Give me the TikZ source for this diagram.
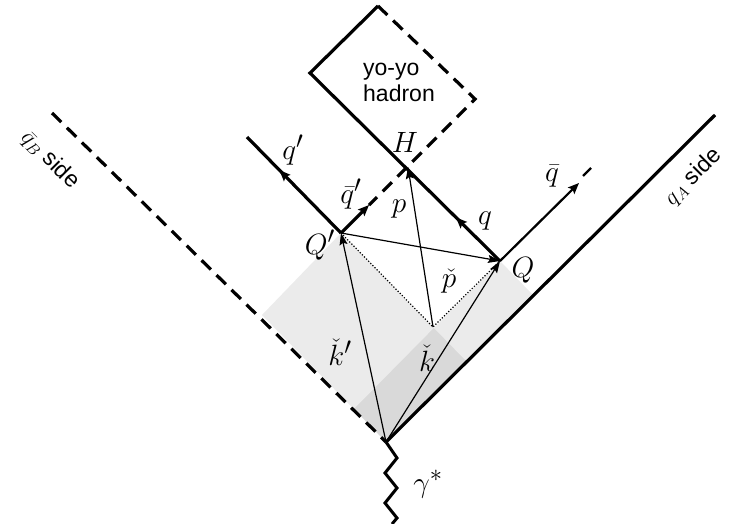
\documentclass[tikz,border=0pt]{standalone}
\usepackage{fontspec}
\setsansfont{Liberation Sans}
\usetikzlibrary{arrows.meta,decorations.markings}
\begin{document}
\begin{tikzpicture}[x=1pt,y=-1pt,
  lc/.style={line width=3.2pt},
  lcd/.style={line width=3.2pt, dash pattern=on 13pt off 8pt},
  thinarr/.style={line width=1.2pt, -{Stealth[length=12pt,width=8pt,inset=2pt]}},
  dotline/.style={line width=1.2pt, dash pattern=on 1.2pt off 1.8pt},
  lab/.style={font=\fontsize{24.88}{30}\selectfont, inner sep=0pt, scale=1.18},
  sans/.style={font=\sffamily\fontsize{23}{26}\selectfont, inner sep=0pt},
  sidelab/.style={font=\sffamily\fontsize{20.74}{24}\selectfont, inner sep=0pt, scale=1.11},
  midarr/.style={postaction={decorate}, decoration={markings, mark=at position #1 with {\arrow[solid]{Stealth[length=11pt,width=9pt,inset=2pt]}}}},
  shade/.style={fill=black, fill opacity=0.08}]
\useasboundingbox (0,0) rectangle (730,523);
% key points
\coordinate (O) at (386,442);
\coordinate (L) at (262,315);
\coordinate (Qp) at (341,233);
\coordinate (R1) at (465,360);
\coordinate (L2) at (354,409);
\coordinate (Q) at (500,261);
\coordinate (R2) at (532,294);
\coordinate (P) at (433,327);
\coordinate (H) at (408,167);
\coordinate (Lt) at (310,73);
\coordinate (Tp) at (378,6);
\coordinate (Rt) at (475,99);
\coordinate (qpEnd) at (247,137);
\coordinate (qbTip) at (579,183);
\coordinate (qbA) at (583,176);
\coordinate (qbB) at (591,168);
\coordinate (qbpTip) at (369,205);
\coordinate (AEnd) at (715,115);
\coordinate (BEnd) at (52,113);
\coordinate (G) at (392,524);
% shaded regions
\fill[shade] (O) -- (L) -- (Qp) -- (R1) -- cycle;
\fill[shade] (O) -- (L2) -- (Q) -- (R2) -- cycle;
% light-cone lines
\draw[lc] (O) -- (AEnd);
\draw[lcd] (BEnd) -- (O);
\draw[lc, midarr=62pt, line join=miter] (Q) -- (Lt) -- (Tp);
\draw[lcd] (Tp) -- (Rt) -- (qbpTip);
\draw[lc, -{Stealth[length=11pt,width=9pt,inset=2pt]}] (Qp) -- (qbpTip);
\draw[lc, midarr=88pt] (Qp) -- (qpEnd);
\draw[line width=2.2pt, -{Stealth[length=11pt,width=9pt,inset=2pt]}] (Q) -- (qbTip);
\draw[line width=2.2pt] (qbA) -- (qbB);
% momentum arrows
\draw[thinarr] (O) -- (Qp);
\draw[thinarr] (O) -- (Q);
\draw[thinarr] (P) -- (H);
\draw[thinarr] (Qp) -- (Q);
\draw[dotline] (Qp) -- (P) -- (Q);
% photon
\draw[line width=3pt, line join=miter] (O) -- (397,458) -- (385,473) -- (397,488) -- (385,503) -- (397,518) -- (G);
% labels
\node[sans, align=left, anchor=west] (yy) at (363,82) {yo-yo\\hadron};
\node[sidelab, rotate=-45] (bside) at (50,160) {$\bar{q}_{B}$ side};
\node[sidelab, rotate=45] (aside) at (693,177) {$q_{A}$ side};
\node[lab] (lqp) at (293,150) {$q'$};
\node[lab] (lH) at (405,142) {$H$};
\node[lab] (lqbp) at (351,194) {$\bar{q}'$};
\node[lab] (lp) at (399,209) {$p$};
\node[lab] (lq) at (485,221) {$q$};
\node[lab] (lqb) at (552,176) {$\bar{q}$};
\node[lab] (lQp) at (320,245) {$Q'$};
\node[lab] (lQ) at (523,270) {$Q$};
\node[lab] (lpc) at (449,281) {$\check{p}$};
\node[lab] (lkp) at (340,352) {$\check{k}'$};
\node[lab] (lk) at (427,358) {$\check{k}$};
\node[lab] (lg) at (428,484) {$\gamma^*$};
\end{tikzpicture}
\end{document}
